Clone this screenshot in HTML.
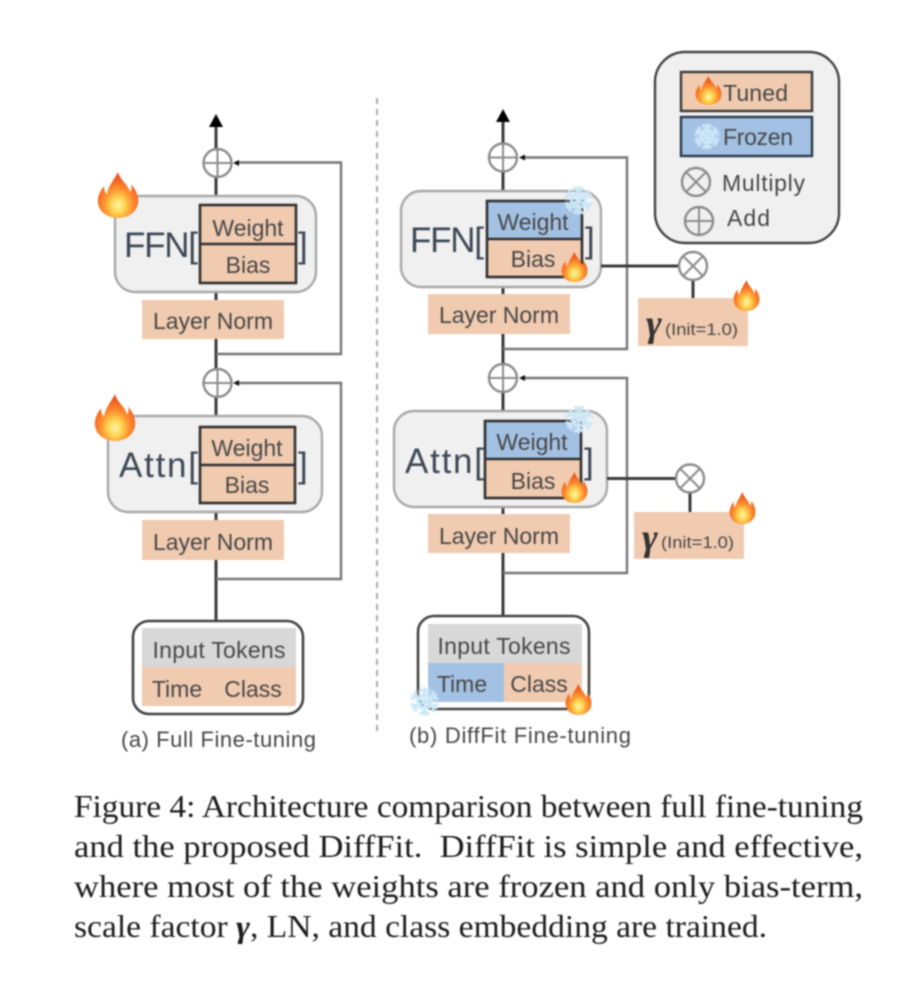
<!DOCTYPE html>
<html><head><meta charset="utf-8"><style>
html,body{margin:0;padding:0;background:#fff;width:912px;height:996px;overflow:hidden}
svg{display:block;filter:blur(.7px)}
text{font-family:"Liberation Sans",sans-serif;fill:#474747}
.s{stroke:#3a3a3a;stroke-width:3;fill:none}
.g{stroke:#777;stroke-width:2.4;fill:none}
.box{fill:#f0f0f0;stroke:#a8a8a8;stroke-width:2.4}
.pe{fill:#f0cbb0}
.bl{fill:#a3c1e3}
.in{stroke:#303030;stroke-width:2.6;fill:none}
.op{fill:#fff;stroke:#8c8c8c;stroke-width:2.4}
.cr{stroke:#8c8c8c;stroke-width:2}
.b{font-size:35px;fill:#3e4855}
.m{font-size:23px;text-anchor:middle}
.cap{font-family:"Liberation Serif",serif;font-size:32px;fill:#1c1c1c}
.ga{font-family:"Liberation Serif",serif;font-size:38px;font-weight:bold;font-style:italic;fill:#333}
</style></head><body>
<svg width="912" height="996" viewBox="0 0 912 996" xmlns="http://www.w3.org/2000/svg">
<defs>
<radialGradient id="fg" cx="50%" cy="72%" r="62%">
<stop offset="0" stop-color="#fff6a8"/><stop offset=".28" stop-color="#ffd452"/><stop offset=".58" stop-color="#ff8f2e"/><stop offset="1" stop-color="#e8531f"/>
</radialGradient>
<symbol id="fl" viewBox="-1 0 42 46" preserveAspectRatio="none">
<path fill="url(#fg)" d="M20 0C22 8 30 12 32 20C34 18 34 14 33 12C38 18 41 24 40 31C39 40 30 46 20 46C10 46 1 40 0 31C-1 24 3 18 6 14C6 18 7 21 9 22C10 14 16 8 20 0Z"/>
</symbol>
<g id="arm"><path d="M0 0V-14M-4.500 -13L0 -8.500L4.500 -13M-3.500 -7.500L0 -4L3.500 -7.500" stroke="#cbe7f7" stroke-width="2.4" fill="none"/></g>
<symbol id="sn" viewBox="-15 -15 30 30">
<circle r="13" fill="#ffffff" opacity=".22"/>
<use href="#arm"/><use href="#arm" transform="rotate(60)"/><use href="#arm" transform="rotate(120)"/><use href="#arm" transform="rotate(180)"/><use href="#arm" transform="rotate(240)"/><use href="#arm" transform="rotate(300)"/>
</symbol>
</defs>

<!-- LEFT connectors -->
<path class="s" d="M216 125V196M216 292V300M216 339V621"/>
<path d="M216 114L223 127H209Z" fill="#000"/>
<path class="g" d="M236 162.500H341V354H216"/>
<path class="g" d="M236 383H341V579H216"/>
<circle class="op" cx="217.500" cy="163" r="14"/><path class="cr" d="M203.500 163H231.500M217.500 149V177"/>
<circle class="op" cx="217.500" cy="383" r="14"/><path class="cr" d="M203.500 383H231.500M217.500 369V397"/>
<path d="M233 163L239 160V166Z" fill="#111"/>
<path d="M233 383L239 380V386Z" fill="#111"/>

<!-- LEFT FFN -->
<rect class="box" x="115" y="196" width="201" height="96" rx="20"/>
<rect class="pe" x="200" y="205" width="96" height="78"/>
<rect class="in" x="200" y="205" width="96" height="78"/><path class="in" d="M200 244H296"/>
<text class="b" x="124" y="257" textLength="74">FFN[</text>
<text class="b" x="298" y="257">]</text>
<text class="m" x="248" y="236">Weight</text>
<text class="m" x="248" y="273">Bias</text>
<rect class="pe" x="142" y="300" width="142" height="39"/>
<text class="m" x="213" y="329" textLength="120">Layer Norm</text>
<use href="#fl" x="97" y="172" width="42" height="46"/>

<!-- LEFT Attn -->
<rect class="box" x="108" y="416" width="214" height="96" rx="20"/>
<rect class="pe" x="200" y="427" width="95" height="76"/>
<rect class="in" x="200" y="427" width="95" height="76"/><path class="in" d="M200 465H295"/>
<text class="b" x="119" y="477" textLength="79">Attn[</text>
<text class="b" x="298" y="477">]</text>
<text class="m" x="247" y="456">Weight</text>
<text class="m" x="247" y="493">Bias</text>
<rect class="pe" x="142" y="520" width="142" height="40"/>
<text class="m" x="213" y="550" textLength="120">Layer Norm</text>
<use href="#fl" x="94" y="394" width="42" height="47"/>

<!-- LEFT input -->
<rect x="133" y="621" width="170" height="93" rx="16" fill="#fff" stroke="#444" stroke-width="2.6"/>
<rect x="142" y="628" width="154" height="39" fill="#d8d8d8"/>
<rect class="pe" x="142" y="667" width="154" height="39"/>
<text class="m" x="219" y="658" textLength="133">Input Tokens</text>
<text class="m" x="177" y="697">Time</text>
<text class="m" x="253" y="697">Class</text>
<text x="121" y="747" font-size="22" textLength="195">(a) Full Fine-tuning</text>

<!-- divider -->
<path d="M377 98V736" stroke="#aaa" stroke-width="2" stroke-dasharray="6 5" fill="none"/>

<!-- RIGHT connectors -->
<path class="s" d="M503 120V191M503 287V294M503 334V617"/>
<path d="M503 109L510 122H496Z" fill="#000"/>
<path class="g" d="M522 157.500H627V349H503"/>
<path class="g" d="M522 378H627V573H503"/>
<circle class="op" cx="503" cy="157.500" r="14"/><path class="cr" d="M489 157.500H517M503 143.500V171.500"/>
<circle class="op" cx="503" cy="378" r="14"/><path class="cr" d="M489 378H517M503 364V392"/>
<path d="M519 157.500L525 154.500V160.500Z" fill="#111"/>
<path d="M519 378L525 375V381Z" fill="#111"/>

<!-- RIGHT FFN -->
<rect class="box" x="401" y="191" width="200" height="96" rx="20"/>
<rect class="bl" x="487" y="201" width="95" height="38"/>
<rect class="pe" x="487" y="239" width="95" height="38"/>
<rect class="in" x="487" y="201" width="95" height="76"/><path class="in" d="M487 239H582"/>
<text class="b" x="410" y="252" textLength="74">FFN[</text>
<text class="b" x="585" y="252">]</text>
<text class="m" x="533" y="230">Weight</text>
<text class="m" x="533" y="267">Bias</text>
<rect class="pe" x="428" y="294" width="142" height="40"/>
<text class="m" x="499" y="323" textLength="120">Layer Norm</text>
<use href="#sn" x="562" y="185" width="33" height="31"/>
<use href="#fl" x="561" y="252" width="27" height="30"/>
<path class="s" d="M601 266H680M693 280V298"/>
<circle class="op" cx="693" cy="266" r="14"/><path class="cr" d="M683 256L703 276M703 256L683 276"/>
<rect class="pe" x="638" y="298" width="110" height="48"/>
<text class="ga" x="646" y="336">γ</text>
<text x="665" y="335" font-size="16.500" textLength="73" lengthAdjust="spacingAndGlyphs">(Init=1.0)</text>
<use href="#fl" x="733" y="280" width="27" height="31"/>

<!-- RIGHT Attn -->
<rect class="box" x="394" y="411" width="213" height="96" rx="20"/>
<rect class="bl" x="485" y="421" width="96" height="38"/>
<rect class="pe" x="485" y="459" width="96" height="39"/>
<rect class="in" x="485" y="421" width="96" height="77"/><path class="in" d="M485 459H581"/>
<text class="b" x="405" y="473" textLength="79">Attn[</text>
<text class="b" x="584" y="473">]</text>
<text class="m" x="532" y="450">Weight</text>
<text class="m" x="533" y="489">Bias</text>
<rect class="pe" x="428" y="514" width="142" height="39"/>
<text class="m" x="499" y="544" textLength="120">Layer Norm</text>
<use href="#sn" x="564" y="404" width="30" height="31"/>
<use href="#fl" x="561" y="472" width="27" height="31"/>
<path class="s" d="M607 478.500H676M690 492V512"/>
<circle class="op" cx="690" cy="478.500" r="14"/><path class="cr" d="M680 468.500L700 488.500M700 468.500L680 488.500"/>
<rect class="pe" x="634" y="512" width="110" height="47"/>
<text class="ga" x="642" y="550">γ</text>
<text x="661" y="548" font-size="16.500" textLength="73" lengthAdjust="spacingAndGlyphs">(Init=1.0)</text>
<use href="#fl" x="729" y="492" width="27" height="32"/>

<!-- RIGHT input -->
<rect x="418" y="616" width="171" height="93" rx="16" fill="#fff" stroke="#444" stroke-width="2.6"/>
<rect x="428" y="624" width="154" height="39" fill="#d8d8d8"/>
<rect class="bl" x="428" y="663" width="76" height="39"/>
<rect class="pe" x="504" y="663" width="78" height="39"/>
<text class="m" x="504" y="654" textLength="133">Input Tokens</text>
<text class="m" x="462" y="692">Time</text>
<text class="m" x="539" y="692">Class</text>
<use href="#sn" x="409" y="686" width="31" height="31"/>
<use href="#fl" x="565" y="684" width="27" height="31"/>
<text x="409" y="743" font-size="22" textLength="222">(b) DiffFit Fine-tuning</text>

<!-- Legend -->
<rect x="655" y="52" width="184" height="191" rx="30" fill="#f0f0f0" stroke="#444" stroke-width="2.4"/>
<rect class="pe" x="681" y="72" width="131" height="39" stroke="#3a3a3a" stroke-width="2.4"/>
<rect class="bl" x="681" y="117" width="131" height="39" stroke="#2a3a4a" stroke-width="2.4"/>
<use href="#fl" x="695" y="76" width="27" height="29"/>
<use href="#sn" x="693" y="122" width="28" height="29"/>
<text x="723" y="101" font-size="23" textLength="65">Tuned</text>
<text x="723" y="145" font-size="23" textLength="70">Frozen</text>
<circle class="op" cx="696" cy="182" r="14" style="fill:none"/><path class="cr" d="M686 172L706 192M706 172L686 192"/>
<text x="722" y="191" font-size="23" textLength="83">Multiply</text>
<circle class="op" cx="699" cy="221" r="14" style="fill:none"/><path class="cr" d="M685 221H713M699 207V235"/>
<text x="727" y="226" font-size="23" textLength="43">Add</text>

<!-- Caption -->
<text class="cap" x="74" y="817" textLength="789" lengthAdjust="spacingAndGlyphs">Figure 4: Architecture comparison between full fine-tuning</text>
<text class="cap" x="74" y="857" textLength="789" lengthAdjust="spacingAndGlyphs" xml:space="preserve">and the proposed DiffFit.  DiffFit is simple and effective,</text>
<text class="cap" x="74" y="897" textLength="789" lengthAdjust="spacingAndGlyphs">where most of the weights are frozen and only bias-term,</text>
<text class="cap" x="74" y="937" textLength="693" lengthAdjust="spacingAndGlyphs">scale factor <tspan font-weight="bold" font-style="italic">γ</tspan>, LN, and class embedding are trained.</text>
</svg>
</body></html>
